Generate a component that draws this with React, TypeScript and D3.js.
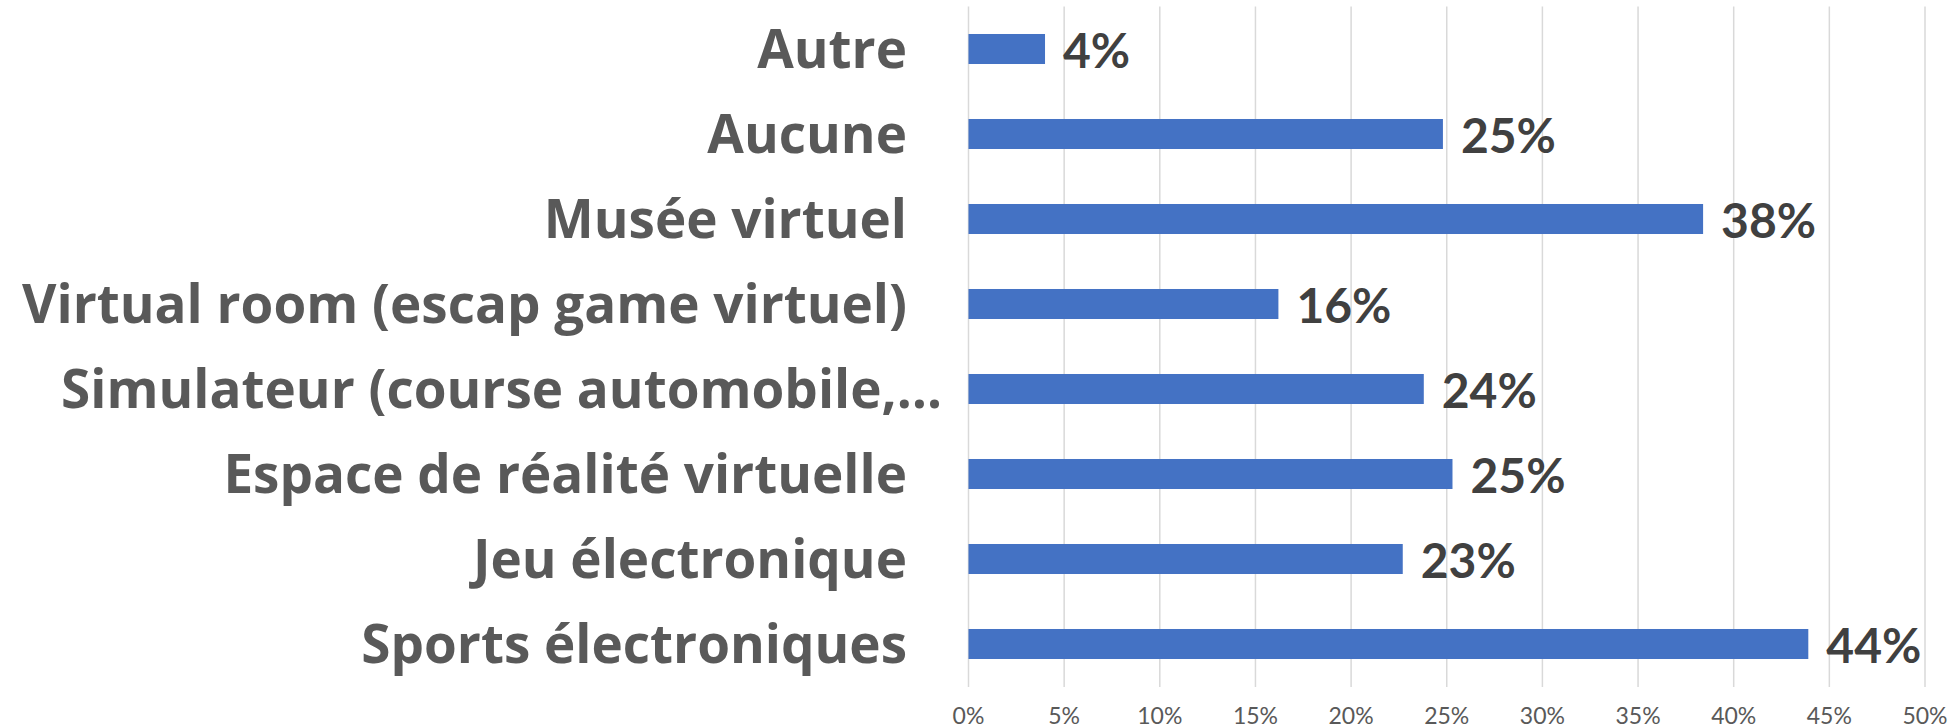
import React from "react";
import * as d3 from "d3";

const categories = [
  "Autre",
  "Aucune",
  "Musée virtuel",
  "Virtual room (escap game virtuel)",
  "Simulateur (course automobile,…",
  "Espace de réalité virtuelle",
  "Jeu électronique",
  "Sports électroniques",
];
const values = [4.0, 24.8, 38.4, 16.2, 23.8, 25.3, 22.7, 43.9];
const tickValues = [0, 5, 10, 15, 20, 25, 30, 35, 40, 45, 50];

const W = 1949;
const H = 728;
const FONT = "Lato, 'Open Sans', sans-serif";
const CAT_FONT = "'Open Sans', Lato, sans-serif";

export default function App() {
  const x = d3.scaleLinear().domain([0, 50]).range([968.5, 1925]);
  const y = d3
    .scaleBand<string>()
    .domain(categories)
    .range([6.5, 686.5])
    .paddingInner(0.647)
    .paddingOuter(0.3235);
  const bw = y.bandwidth();

  return (
    <svg
      width={W}
      height={H}
      style={{ position: "absolute", left: 0, top: 0, display: "block", background: "#fff" }}
    >
      {tickValues.map((t) => (
        <line
          key={"g" + t}
          x1={x(t)}
          x2={x(t)}
          y1={6.5}
          y2={687}
          stroke="#d9d9d9"
          strokeWidth={1.5}
        />
      ))}
      {tickValues.map((t) => (
        <text
          key={"t" + t}
          x={x(t)}
          y={724}
          textAnchor="middle"
          fontFamily={FONT}
          fontSize={23}
          fill="#595959"
        >
          {t + "%"}
        </text>
      ))}
      {categories.map((c, i) => {
        const yc = (y(c) as number) + bw / 2;
        const truncated = c.endsWith("…");
        return (
          <g key={c}>
            <rect x={x(0)} y={y(c)} width={x(values[i]) - x(0)} height={bw} fill="#4472C4" />
            <text
              x={truncated ? 942 : 907}
              y={yc + 19}
              textAnchor="end"
              fontFamily={CAT_FONT}
              fontWeight="bold"
              fontSize={53}
              fill="#595959"
            >
              {c}
            </text>
            <text
              x={x(values[i]) + 18}
              y={yc + 19}
              textAnchor="start"
              fontFamily={FONT}
              fontWeight="bold"
              fontSize={48}
              fill="#404040"
            >
              {Math.round(values[i]) + "%"}
            </text>
          </g>
        );
      })}
    </svg>
  );
}
